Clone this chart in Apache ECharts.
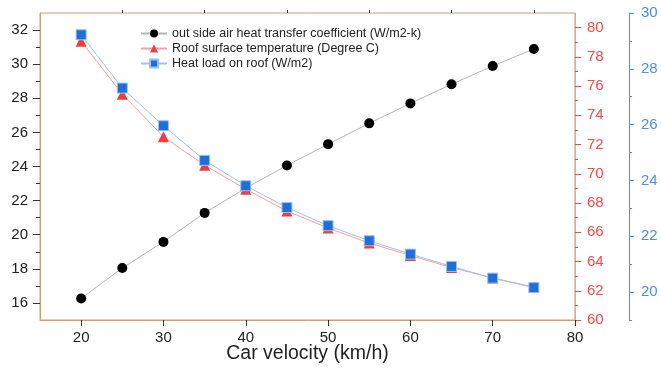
<!DOCTYPE html>
<html>
<head>
<meta charset="utf-8">
<script src="https://cdn.jsdelivr.net/npm/echarts@6/dist/echarts.min.js"></script>
<style>
html,body{margin:0;padding:0;background:#fff;}
#main{width:661px;height:377px;}
</style>
</head>
<body>
<div id="main"></div>
<script>
// 车速 (km/h)
var velocity = [20, 25, 30, 35, 40, 45, 50, 55, 60, 65, 70, 75];
// 外侧空气换热系数 (W/m2-k)
var heatCoef = [16.26, 18.05, 19.58, 21.28, 22.73, 24.06, 25.31, 26.53, 27.70, 28.82, 29.89, 30.89];
// 车顶表面温度 (°C)
var roofTemp = [79.07, 75.45, 72.53, 70.59, 68.95, 67.45, 66.29, 65.26, 64.41, 63.59, 62.87, 62.26];
// 车顶热负荷 (W/m2)
var heatLoad = [29.22, 27.31, 25.96, 24.72, 23.81, 23.03, 22.38, 21.84, 21.36, 20.92, 20.50, 20.16];

// 刻度
var xMajor = [20, 30, 40, 50, 60, 70, 80];
var xMinor = [25, 35, 45, 55, 65, 75];
var leftMajor = [16, 18, 20, 22, 24, 26, 28, 30, 32];
var leftMinor = [17, 19, 21, 23, 25, 27, 29, 31];
var redMajor = [60, 62, 64, 66, 68, 70, 72, 74, 76, 78, 80];
var redMinor = [61, 63, 65, 67, 69, 71, 73, 75, 77, 79];
var blueMajor = [20, 22, 24, 26, 28, 30];
var blueMinor = [19, 21, 23, 25, 27, 29];

var font = 'Liberation Sans, Arial, sans-serif';
var frame = '#c9a273';
var red = '#f24b4b';
var blue = '#4f8fe6';

function pairs(ys){
    return velocity.map(function(x, i){ return [x, ys[i]]; });
}

var chart = echarts.init(document.getElementById('main'));
chart.setOption({
    backgroundColor: '#fff',
    animation: false,
    textStyle: {fontFamily: font},
    grid: {left: 40, right: 86, top: 13, bottom: 57, show: true, borderColor: frame, borderWidth: 1},
    legend: {
        orient: 'vertical',
        left: 135, top: 22,
        itemWidth: 26, itemHeight: 10, itemGap: 2,
        textStyle: {fontSize: 12.5, color: '#222', fontFamily: font}
    },
    xAxis: [
        {
            type: 'value', min: 15, max: 80,
            name: 'Car velocity (km/h)', nameLocation: 'middle', nameGap: 24,
            nameMoveOverlap: false,
            nameTextStyle: {fontSize: 19.5, color: '#222'},
            axisLine: {lineStyle: {color: frame}},
            axisTick: {show: true, length: 6, customValues: xMajor, lineStyle: {color: '#333'}},
            axisLabel: {customValues: xMajor, fontSize: 15, color: '#222', margin: 10},
            splitLine: {show: false}
        },
        {
            type: 'value', min: 15, max: 80,
            axisLine: {show: false},
            axisTick: {show: true, length: 3, customValues: xMinor, lineStyle: {color: '#333'}},
            axisLabel: {show: false},
            splitLine: {show: false}
        }
    ],
    yAxis: [
        {
            type: 'value', min: 15, max: 33, position: 'left',
            axisLine: {show: true, lineStyle: {color: frame}},
            axisTick: {show: true, length: 7, customValues: leftMajor, lineStyle: {color: '#333'}},
            axisLabel: {customValues: leftMajor, fontSize: 15, color: '#222', margin: 12},
            splitLine: {show: false}
        },
        {
            type: 'value', min: 60, max: 81, position: 'right',
            axisLine: {show: true, lineStyle: {color: '#9cc49c'}},
            axisTick: {show: true, length: 6, customValues: redMajor, lineStyle: {color: red}},
            axisLabel: {customValues: redMajor, fontSize: 15, color: red, margin: 12},
            splitLine: {show: false}
        },
        {
            type: 'value', min: 19, max: 30, position: 'right', offset: 54,
            axisLine: {show: true, lineStyle: {color: blue}},
            axisTick: {show: true, length: 5, customValues: blueMajor, lineStyle: {color: blue}},
            axisLabel: {customValues: blueMajor, fontSize: 15, color: blue, margin: 12},
            splitLine: {show: false}
        },
        {
            type: 'value', min: 15, max: 33, position: 'left',
            axisLine: {show: false},
            axisTick: {show: true, length: 4, customValues: leftMinor, lineStyle: {color: '#333'}},
            axisLabel: {show: false}, splitLine: {show: false}
        },
        {
            type: 'value', min: 60, max: 81, position: 'right',
            axisLine: {show: false},
            axisTick: {show: true, length: 3, customValues: redMinor, lineStyle: {color: red}},
            axisLabel: {show: false}, splitLine: {show: false}
        },
        {
            type: 'value', min: 19, max: 30, position: 'right', offset: 54,
            axisLine: {show: false},
            axisTick: {show: true, length: 3, customValues: blueMinor, lineStyle: {color: blue}},
            axisLabel: {show: false}, splitLine: {show: false}
        }
    ],
    series: [
        {
            name: 'out side air heat transfer coefficient (W/m2-k)',
            type: 'line', yAxisIndex: 0,
            data: pairs(heatCoef),
            symbol: 'circle', symbolSize: 10,
            itemStyle: {color: '#000'},
            lineStyle: {color: '#b5b5b5', width: 1}
        },
        {
            name: 'Roof surface temperature (Degree C)',
            type: 'line', yAxisIndex: 1,
            data: pairs(roofTemp),
            symbol: 'triangle', symbolSize: 11,
            itemStyle: {color: '#f03c3c'},
            lineStyle: {color: '#f7a0a0', width: 1}
        },
        {
            name: 'Heat load on roof (W/m2)',
            type: 'line', yAxisIndex: 2,
            data: pairs(heatLoad),
            symbol: 'rect', symbolSize: 10,
            itemStyle: {color: '#1f6fd8', borderColor: '#9cc0f0', borderWidth: 1},
            lineStyle: {color: '#9cc0f0', width: 1}
        }
    ]
});
</script>
</body>
</html>
